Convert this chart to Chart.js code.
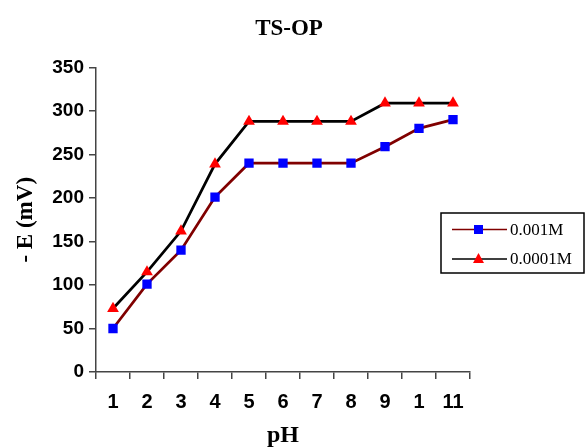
<!DOCTYPE html>
<html>
<head>
<meta charset="utf-8">
<script src="https://cdn.jsdelivr.net/npm/chart.js@4"></script>
<style>
  html, body { margin: 0; padding: 0; background: #fff; }
  #wrap { width: 587px; height: 448px; position: relative; }
</style>
</head>
<body>
<div id="wrap"><canvas id="tsChart"></canvas></div>
<script>
// pH categories as printed on the axis
var phLabels = ['1', '2', '3', '4', '5', '6', '7', '8', '9', '1', '11'];
// -E (mV) readings
var e001 = [50, 101, 140, 201, 240, 240, 240, 240, 259, 280, 290];
var e0001 = [73, 115, 162, 239, 288, 288, 288, 288, 309, 309, 309];
var seriesNames = ['0.001M', '0.0001M'];
var yTicks = [0, 50, 100, 150, 200, 250, 300, 350];
var chartTitle = 'TS-OP';

var serif = '"Liberation Serif", "Times New Roman", serif';
var sans = '"Liberation Sans", Arial, sans-serif';

// title + boxed legend drawn by hand, placed like the original
var extras = {
  id: 'extras',
  afterDraw: function(chart) {
    var ctx = chart.ctx;
    ctx.save();
    ctx.fillStyle = '#000';
    ctx.font = 'bold 23px ' + serif;
    ctx.textAlign = 'center';
    ctx.textBaseline = 'alphabetic';
    ctx.fillText(chartTitle, 289, 35);

    var x = 441, y = 213, w = 143, h = 60;
    ctx.strokeStyle = '#000';
    ctx.lineWidth = 1.5;
    ctx.strokeRect(x, y, w, h);
    chart.data.datasets.forEach(function(ds, i) {
      var ly = y + 16.5 + i * 29.5;
      ctx.strokeStyle = ds.borderColor;
      ctx.lineWidth = 1.5;
      ctx.beginPath();
      ctx.moveTo(452, ly);
      ctx.lineTo(507, ly);
      ctx.stroke();
      ctx.fillStyle = ds.pointBackgroundColor;
      if (ds.pointStyle === 'rect') {
        ctx.fillRect(474, ly - 4.5, 9, 9);
      } else {
        ctx.beginPath();
        ctx.moveTo(478.5, ly - 6);
        ctx.lineTo(484, ly + 4);
        ctx.lineTo(473, ly + 4);
        ctx.closePath();
        ctx.fill();
      }
      ctx.fillStyle = '#000';
      ctx.font = '17px ' + serif;
      ctx.textAlign = 'left';
      ctx.textBaseline = 'middle';
      ctx.fillText(ds.label, 510, ly + 1);
    });
    ctx.restore();
  }
};

var ctx = document.getElementById('tsChart').getContext('2d');
var tsChart = new Chart(ctx, {
  type: 'line',
  data: {
    labels: phLabels,
    datasets: [{
      label: seriesNames[0],
      data: e001,
      borderColor: '#800000',
      borderWidth: 2.75,
      pointStyle: 'rect',
      pointRadius: 6.6,
      pointBorderWidth: 0,
      pointBackgroundColor: '#0000ff',
      pointBorderColor: '#0000ff',
      tension: 0
    }, {
      label: seriesNames[1],
      data: e0001,
      borderColor: '#000000',
      borderWidth: 2.75,
      pointStyle: 'triangle',
      pointRadius: 6.8,
      pointBorderWidth: 0,
      pointBackgroundColor: '#ff0000',
      pointBorderColor: '#ff0000',
      tension: 0
    }]
  },
  options: {
    responsive: true,
    maintainAspectRatio: false,
    animation: false,
    layout: { padding: { left: 0, right: 117, top: 67.5, bottom: 0 } },
    plugins: {
      legend: { display: false },
      tooltip: { enabled: false },
      title: { display: false }
    },
    scales: {
      x: {
        offset: true,
        afterFit: function(axis) { axis.height = 76; },
        grid: { offset: true, drawOnChartArea: false, drawTicks: true, tickLength: 7, color: '#444', lineWidth: 1.5 },
        border: { color: '#444', width: 1.5 },
        ticks: {
          color: '#000',
          padding: 11,
          font: { family: sans, size: 20, weight: 'bold' },
          maxRotation: 0,
          autoSkip: false
        },
        title: {
          display: true,
          text: 'pH',
          color: '#000',
          font: { family: serif, size: 24, weight: 'bold', lineHeight: 1 },
          padding: { top: 0, bottom: 0 }
        }
      },
      y: {
        min: 0,
        max: 350,
        afterFit: function(axis) { axis.width = 96; },
        afterBuildTicks: function(axis) {
          axis.ticks = yTicks.map(function(v) { return { value: v }; });
        },
        grid: { drawOnChartArea: false, drawTicks: true, tickLength: 7, color: '#444', lineWidth: 1.5 },
        border: { color: '#444', width: 1.5 },
        ticks: {
          color: '#000',
          padding: 5,
          font: { family: sans, size: 19, weight: 'bold' }
        },
        title: {
          display: true,
          text: '- E (mV)',
          color: '#000',
          font: { family: serif, size: 23, weight: 'bold', lineHeight: 1 },
          padding: { top: 14.5, bottom: 0 }
        }
      }
    }
  },
  plugins: [extras]
});
</script>
</body>
</html>
